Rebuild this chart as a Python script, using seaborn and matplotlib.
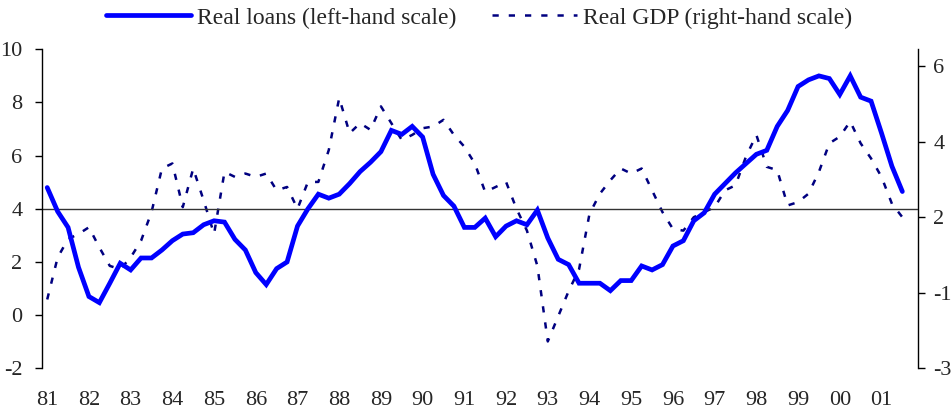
import matplotlib
matplotlib.use("Agg")
import matplotlib.pyplot as plt
import seaborn as sns
import pandas as pd

# Quarterly growth rates, 1981Q1 - 2001Q3 (per cent, year on year)
real_loans = [
    4.8, 3.9, 3.3, 1.8, 0.7, 0.47, 1.2, 1.95, 1.7, 2.15, 2.15, 2.45,
    2.8, 3.05, 3.1, 3.4, 3.55, 3.5, 2.85, 2.45, 1.6, 1.15, 1.75, 2.0,
    3.35, 4.0, 4.55, 4.4, 4.55, 4.95, 5.4, 5.75, 6.15, 6.95, 6.8, 7.1,
    6.7, 5.3, 4.5, 4.1, 3.3, 3.3, 3.65, 2.95, 3.35, 3.55, 3.4, 3.95,
    2.9, 2.1, 1.9, 1.2, 1.2, 1.2, 0.92, 1.3, 1.3, 1.85, 1.7, 1.9,
    2.6, 2.8, 3.55, 3.85, 4.55, 4.95, 5.35, 5.7, 6.05, 6.2, 7.1, 7.7,
    8.6, 8.85, 9.0, 8.9, 8.3, 9.0, 8.2, 8.05, 6.85, 5.6, 4.65,
]
real_gdp = [
    -0.95, 0.3, 0.85, 1.0, 1.2, 0.6, 0.05, -0.05, 0.3, 0.8, 1.65, 2.95,
    3.1, 1.8, 2.95, 2.0, 1.0, 2.85, 2.7, 2.8, 2.7, 2.8, 2.3, 2.4,
    1.75, 2.55, 2.55, 3.5, 5.05, 4.0, 4.3, 4.1, 4.8, 4.3, 3.8, 3.95,
    4.15, 4.2, 4.4, 3.95, 3.6, 3.1, 2.25, 2.4, 2.55, 1.75, 1.1, 0.05,
    -2.2, -1.45, -0.7, -0.05, 1.6, 2.2, 2.6, 2.95, 2.8, 2.95, 2.3, 1.65,
    1.15, 1.1, 1.5, 1.65, 1.8, 2.3, 2.45, 3.3, 3.95, 3.0, 2.9, 1.85,
    1.95, 2.2, 2.85, 3.7, 3.9, 4.35, 3.7, 3.25, 2.7, 1.9, 1.5,
]
year_labels = ["81", "82", "83", "84", "85", "86", "87", "88", "89", "90", "91",
               "92", "93", "94", "95", "96", "97", "98", "99", "00", "01"]
left_ticks = [-2, 0, 2, 4, 6, 8, 10]
right_ticks = [-3, -0.75, 1.5, 3.75, 6]
right_labels = ["-3", "-1", "2", "4", "6"]

df = pd.DataFrame({
    "quarter": range(len(real_loans)),
    "loans": real_loans,
    "gdp": real_gdp,
})

sns.set_style("white")
plt.rcParams["font.family"] = ["Liberation Serif", "DejaVu Serif"]
plt.rcParams["font.size"] = 16

fig = plt.figure(figsize=(9.52, 4.12), dpi=100)
ax = fig.add_axes([42 / 952, 1 - 368.3 / 412, (918 - 42) / 952, (368.3 - 49.3) / 412])
ax2 = ax.twinx()

# reference line at 4 on the left-hand scale
ax.axhline(4, color="#333333", lw=1.0, zorder=1)

sns.lineplot(data=df, x="quarter", y="gdp", ax=ax2, color="#000080",
             lw=1.8, linestyle=(0, (2.5, 4.0)), label="Real GDP (right-hand scale)",
             legend=False)
sns.lineplot(data=df, x="quarter", y="loans", ax=ax, color="#0000FF",
             lw=3.4, label="Real loans (left-hand scale)", legend=False,
             solid_joinstyle="miter")
ax.set_zorder(ax2.get_zorder() + 1)
ax.patch.set_visible(False)

ax.set_xlim(-0.5, 83.5)
ax.set_ylim(-2, 10)
ax2.set_ylim(-3, 6.5)

ax.set_xticks(range(0, 4 * len(year_labels), 4))
ax.set_xticklabels(year_labels)
ax.set_yticks(left_ticks)
ax.set_yticklabels([str(v) for v in left_ticks])
ax2.set_yticks(right_ticks)
ax2.set_yticklabels(right_labels)

ax.tick_params(axis="x", length=0, pad=16.5, labelsize=16)
ax.tick_params(axis="y", length=5, width=1, color="black", pad=9, labelsize=16, direction="out", left=True)
ax2.tick_params(axis="y", length=5, width=1, color="black", pad=6, labelsize=16, direction="out", right=True)

for a in (ax, ax2):
    a.set_xlabel("")
    a.set_ylabel("")
    for side in ("top", "bottom", "left", "right"):
        a.spines[side].set_visible(False)
ax.spines["left"].set_visible(True)
ax.spines["left"].set_color("black")
ax.spines["left"].set_linewidth(1.0)
ax2.spines["right"].set_visible(True)
ax2.spines["right"].set_color("black")
ax2.spines["right"].set_linewidth(1.0)

h1, l1 = ax.get_legend_handles_labels()
h2, l2 = ax2.get_legend_handles_labels()
fig.legend(h1 + h2, l1 + l2, loc="center", bbox_to_anchor=(479 / 952, 1 - 18 / 412),
           ncol=2, frameon=False, handlelength=3.6, handletextpad=0.25,
           columnspacing=1.5, fontsize=17)

fig.savefig("out.png", dpi=100)
